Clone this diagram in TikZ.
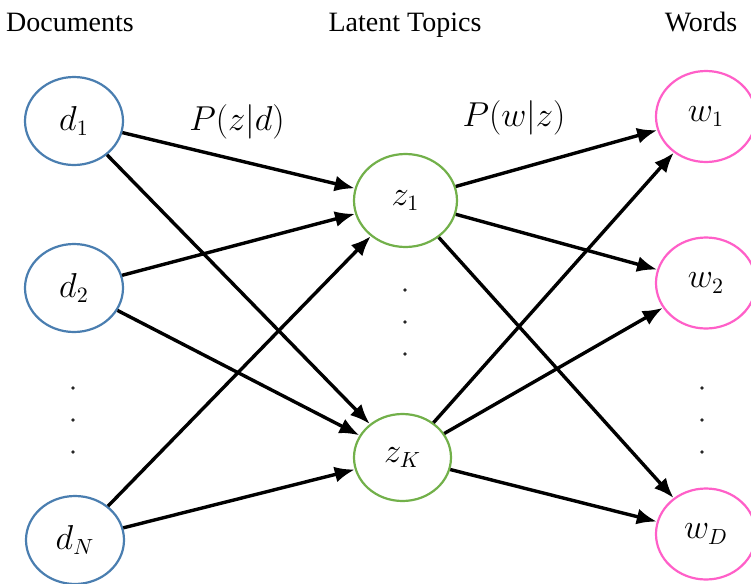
\documentclass[tikz,border=0pt]{standalone}
\usepackage{fontspec}
\setmainfont{Liberation Serif}
\usetikzlibrary{shapes.geometric,arrows.meta}
\definecolor{docblue}{HTML}{4A7EB0}
\definecolor{topicgreen}{HTML}{72B04A}
\definecolor{wordpink}{HTML}{FF5FC8}
\tikzset{
  unitnode/.style={ellipse, draw, line width=1.1pt, inner sep=0pt,
    font=\fontsize{16}{19}\selectfont},
  docnode/.style={unitnode, draw=docblue, minimum width=49pt, minimum height=44pt},
  topicnode/.style={unitnode, draw=topicgreen},
  wordnode/.style={unitnode, draw=wordpink, minimum width=50pt, minimum height=45.5pt},
  heading/.style={font=\fontsize{14}{17}\selectfont, inner sep=0pt, anchor=base},
  problabel/.style={font=\fontsize{16}{19}\selectfont, inner sep=0pt},
  link/.style={line width=1.7pt, -{Latex[length=10pt,width=8pt]}},
  dotmark/.style={fill=black!85}
}
\begin{document}
\begin{tikzpicture}[x=0.5pt,y=-0.5pt]
\useasboundingbox (0,0) rectangle (751,584);

% column headings, sharing one baseline
\node[heading] (hdoc) at (70,31) {Documents};
\node[heading] (htop) at (405,31) {Latent Topics};
\node[heading] (hword) at (701,31) {Words};

% documents
\node[docnode] (d1) at (74,121) {$d_1$};
\node[docnode] (d2) at (74,288) {$d_2$};
\node[docnode] (dN) at (75,540) {$d_N$};

% latent topics
\node[topicnode, minimum width=51.5pt, minimum height=46.5pt] (z1) at (405.5,200.5) {$z_1$};
\node[topicnode, minimum width=48.5pt, minimum height=43.5pt] (zK) at (402.5,457.5) {$z_K$};

% words
\node[wordnode] (w1) at (706,116.5) {$w_1$};
\node[wordnode] (w2) at (706,283) {$w_2$};
\node[wordnode] (wD) at (706,534) {$w_D$};

% ellipsis dots
\foreach \y in {388,420,452} \fill[dotmark] (73,\y) circle (1.8);
\foreach \y in {290,322,354} \fill[dotmark] (405,\y) circle (1.8);
\foreach \y in {388,420,452} \fill[dotmark] (702,\y) circle (1.8);

% probability labels
\node[problabel] (pzd) at (237,122) {$P(z|d)$};
\node[problabel] (pwz) at (514,118) {$P(w|z)$};

% documents -> topics
\foreach \s in {d1,d2,dN} {
  \draw[link] (\s) -- (z1);
  \draw[link] (\s) -- (zK);
}
% topics -> words
\foreach \s in {z1,zK} {
  \draw[link] (\s) -- (w1);
  \draw[link] (\s) -- (w2);
  \draw[link] (\s) -- (wD);
}
\end{tikzpicture}
\end{document}
